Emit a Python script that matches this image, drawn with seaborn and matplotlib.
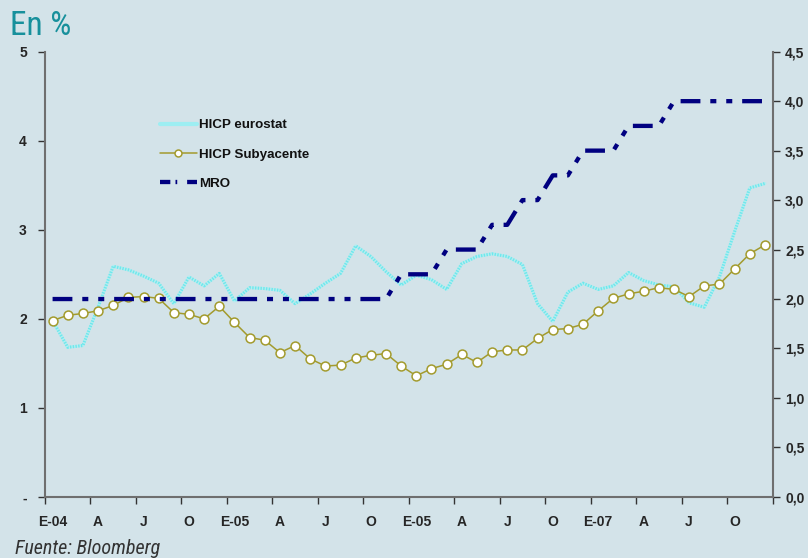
import matplotlib
matplotlib.use("Agg")
import numpy as np
import pandas as pd
import matplotlib.pyplot as plt
from matplotlib import font_manager
from matplotlib.lines import Line2D
from matplotlib.ticker import FixedLocator, FuncFormatter, NullFormatter
import seaborn as sns

# Monthly series, Jan 2004 - Dec 2007 (%)
hicp_eurostat = [1.98, 1.68, 1.70, 2.13, 2.59, 2.55, 2.48, 2.40, 2.17, 2.47, 2.37, 2.51,
                 2.20, 2.35, 2.34, 2.32, 2.17, 2.28, 2.40, 2.51, 2.82, 2.70, 2.53, 2.38,
                 2.49, 2.44, 2.33, 2.62, 2.70, 2.73, 2.70, 2.61, 2.17, 1.97, 2.30, 2.40,
                 2.33, 2.37, 2.52, 2.43, 2.38, 2.36, 2.18, 2.13, 2.47, 2.98, 3.47, 3.52]
hicp_subyacente = [1.98, 2.04, 2.06, 2.09, 2.15, 2.24, 2.25, 2.23, 2.07, 2.05, 2.00, 2.14,
                   1.96, 1.79, 1.76, 1.62, 1.70, 1.55, 1.47, 1.48, 1.56, 1.59, 1.61, 1.47,
                   1.36, 1.44, 1.49, 1.60, 1.51, 1.63, 1.65, 1.65, 1.78, 1.88, 1.89, 1.94,
                   2.09, 2.23, 2.28, 2.31, 2.35, 2.33, 2.25, 2.37, 2.39, 2.56, 2.73, 2.83]
mro = [2.00] * 23 + [2.25, 2.25, 2.25, 2.50, 2.50, 2.50, 2.75, 2.75, 3.00, 3.00,
                     3.25, 3.25, 3.50, 3.50, 3.50, 3.75, 3.75, 3.75] + [4.00] * 7
quarter_labels = ["E-04", "A", "J", "O", "E-05", "A", "J", "O",
                  "E-05", "A", "J", "O", "E-07", "A", "J", "O"]
left_ticks = [0, 1, 2, 3, 4, 5]
right_ticks = [0.0, 0.5, 1.0, 1.5, 2.0, 2.5, 3.0, 3.5, 4.0, 4.5]

df = pd.DataFrame({
    "mes": np.arange(len(hicp_eurostat)),
    "HICP eurostat": hicp_eurostat,
    "HICP Subyacente": hicp_subyacente,
    "MRO": mro,
})

BG = "#D3E3E9"
CYAN_LIGHT = "#B4EEF1"
CYAN = "#6FE7EC"
OLIVE = "#A39B2E"
NAVY = "#000080"
TEAL = "#17909C"
SPINE = "#6F6F6F"

sns.set_theme(style="white")
installed = {f.name for f in font_manager.fontManager.ttflist}
condensed = next((f for f in ["Roboto Condensed", "Liberation Sans Narrow", "Roboto"]
                  if f in installed), "DejaVu Sans")
plt.rcParams["font.family"] = ["Liberation Sans", "DejaVu Sans"]

fig = plt.figure(figsize=(8.08, 5.58), dpi=100, facecolor=BG)
ax = fig.add_axes([45 / 808, 1 - 496.9 / 558, (772.5 - 45) / 808, (496.9 - 51.7) / 558])
ax.set_facecolor(BG)
ax2 = ax.twinx()

# headline HICP: pale band with a fine striped overlay
sns.lineplot(data=df, x="mes", y="HICP eurostat", ax=ax, color=CYAN_LIGHT, lw=2.2)
sns.lineplot(data=df, x="mes", y="HICP eurostat", ax=ax, color=CYAN, lw=2.2)
ax.lines[-1].set_linestyle((0, (0.45, 0.45)))
sns.lineplot(data=df, x="mes", y="HICP Subyacente", ax=ax, color=OLIVE, lw=1.1,
             marker="o", markersize=6.4, markerfacecolor="white",
             markeredgecolor=OLIVE, markeredgewidth=1.1)
sns.lineplot(data=df, x="mes", y="MRO", ax=ax2, color=NAVY, lw=3.1)
ax2.lines[-1].set_linestyle((0, (4.6, 2.3, 1.4, 2.3, 1.4, 2.3)))

n = len(df)
for a in (ax, ax2):
    a.set_xlim(-0.5, n - 0.5)
    a.set_xlabel("")
    a.set_ylabel("")
    for s in a.spines.values():
        s.set_visible(False)

ax.set_ylim(0, 5)
ax2.set_ylim(0, 4.5)

ax.spines["left"].set_visible(True)
ax.spines["bottom"].set_visible(True)
ax2.spines["right"].set_visible(True)
for s in (ax.spines["left"], ax.spines["bottom"], ax2.spines["right"]):
    s.set_color(SPINE)
    s.set_linewidth(1.5)

# x axis: ticks on quarter boundaries, labels centred on the first month of each quarter
ax.xaxis.set_major_locator(FixedLocator(np.arange(-0.5, n, 3)))
ax.xaxis.set_major_formatter(NullFormatter())
ax.xaxis.set_minor_locator(FixedLocator(np.arange(0, n, 3)))
ax.set_xticklabels(quarter_labels, minor=True)
ax.tick_params(axis="x", which="major", direction="out", length=5, width=1, color="#333333", bottom=True)
ax.tick_params(axis="x", which="minor", length=0, pad=13, labelsize=10)
for t in ax.get_xticklabels(minor=True):
    t.set_fontweight("bold")

ax.set_yticks(left_ticks)
ax.yaxis.set_major_formatter(FuncFormatter(lambda v, p: "-" if v == 0 else f"{v:.0f}"))
ax.tick_params(axis="y", direction="out", length=5, width=1, color="#333333", left=True,
               pad=8, labelsize=10)
ax2.set_yticks(right_ticks)
ax2.yaxis.set_major_formatter(FuncFormatter(lambda v, p: f"{v:.1f}".replace(".", ",")))
ax2.tick_params(axis="y", direction="out", length=5, width=1, color="#333333", right=True,
                pad=4, labelsize=10)
for t in ax.get_yticklabels() + ax2.get_yticklabels():
    t.set_fontweight("bold")

handles = [
    Line2D([], [], color="#9DEEF2", lw=3.0),
    Line2D([], [], color=OLIVE, lw=1.1, marker="o", markersize=5, markerfacecolor="white",
           markeredgecolor=OLIVE, markeredgewidth=1.1),
    Line2D([], [], color=NAVY, lw=3.1, linestyle=(0, (2.4, 1.2, 0.4, 2.3))),
]
leg = ax.legend(handles, ["HICP eurostat", "HICP Subyacente", "MRO"],
                loc="upper left", bbox_to_anchor=(160 / 808, 1 - 119 / 558),
                bbox_transform=fig.transFigure, frameon=False, borderpad=0,
                borderaxespad=0, handlelength=2.75, handletextpad=0.2,
                labelspacing=1.27, prop={"weight": "bold", "size": 9.6})
for t in leg.get_texts():
    t.set_color("#111111")

fig.text(10 / 808, 1 - 35 / 558, "En %", color=TEAL, fontsize=24, ha="left", va="baseline",
         family=condensed)
fig.text(15 / 808, 1 - 554 / 558, "Fuente: Bloomberg", color="#333333", fontsize=14.5,
         style="italic", ha="left", va="baseline", family=condensed)

fig.savefig("out.png", dpi=100, facecolor=BG)
